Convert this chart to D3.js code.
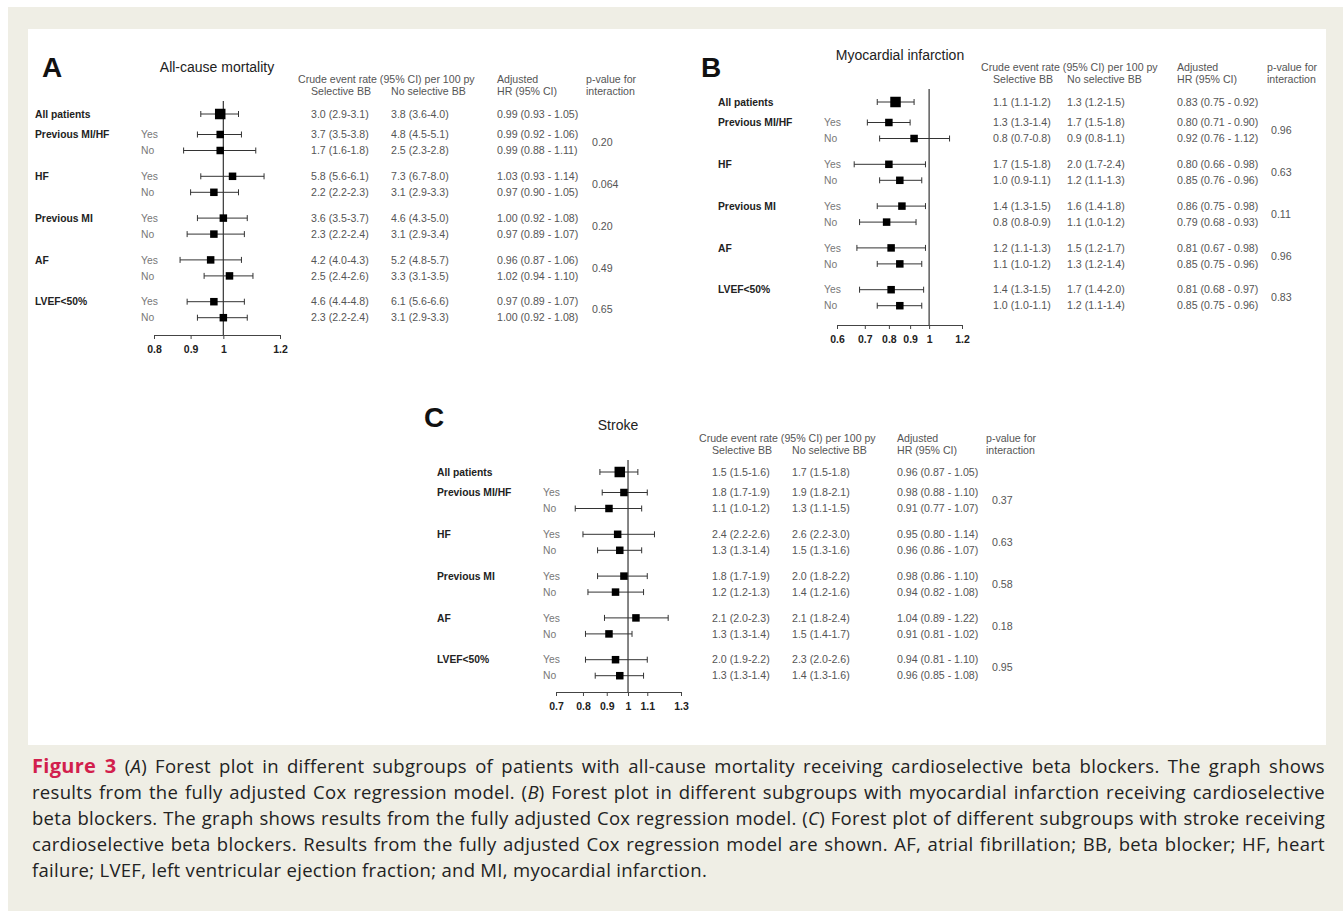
<!DOCTYPE html>
<html>
<head>
<meta charset="utf-8">
<script src="https://cdn.jsdelivr.net/npm/d3@7"></script>
<style>
  body { margin: 0; background: #fff; }
  svg text { font-family: Arial, "Liberation Sans", sans-serif; }
</style>
</head>
<body>
<div id="main"></div>
<script>

// rows: 0 = all patients, then Yes/No pairs for each subgroup
const groups = ['All patients', 'Previous MI/HF', 'HF', 'Previous MI', 'AF', 'LVEF<50%'];
const rowGroup = [0, 1, 1, 2, 2, 3, 3, 4, 4, 5, 5];
const rowSub = ['', 'Yes', 'No', 'Yes', 'No', 'Yes', 'No', 'Yes', 'No', 'Yes', 'No'];

// A - all-cause mortality
const mortHR = [0.99, 0.99, 0.99, 1.03, 0.97, 1.00, 0.97, 0.96, 1.02, 0.97, 1.00];
const mortLo = [0.93, 0.92, 0.88, 0.93, 0.90, 0.92, 0.89, 0.87, 0.94, 0.89, 0.92];
const mortHi = [1.05, 1.06, 1.11, 1.14, 1.05, 1.08, 1.07, 1.06, 1.10, 1.07, 1.08];
const mortSel = ['3.0 (2.9-3.1)', '3.7 (3.5-3.8)', '1.7 (1.6-1.8)', '5.8 (5.6-6.1)', '2.2 (2.2-2.3)', '3.6 (3.5-3.7)', '2.3 (2.2-2.4)', '4.2 (4.0-4.3)', '2.5 (2.4-2.6)', '4.6 (4.4-4.8)', '2.3 (2.2-2.4)'];
const mortNon = ['3.8 (3.6-4.0)', '4.8 (4.5-5.1)', '2.5 (2.3-2.8)', '7.3 (6.7-8.0)', '3.1 (2.9-3.3)', '4.6 (4.3-5.0)', '3.1 (2.9-3.4)', '5.2 (4.8-5.7)', '3.3 (3.1-3.5)', '6.1 (5.6-6.6)', '3.1 (2.9-3.3)'];
const mortP = ['0.20', '0.064', '0.20', '0.49', '0.65'];
const mortTicks = [0.8, 0.9, 1, 1.2];

// B - myocardial infarction
const miHR = [0.83, 0.80, 0.92, 0.80, 0.85, 0.86, 0.79, 0.81, 0.85, 0.81, 0.85];
const miLo = [0.75, 0.71, 0.76, 0.66, 0.76, 0.75, 0.68, 0.67, 0.75, 0.68, 0.75];
const miHi = [0.92, 0.90, 1.12, 0.98, 0.96, 0.98, 0.93, 0.98, 0.96, 0.97, 0.96];
const miSel = ['1.1 (1.1-1.2)', '1.3 (1.3-1.4)', '0.8 (0.7-0.8)', '1.7 (1.5-1.8)', '1.0 (0.9-1.1)', '1.4 (1.3-1.5)', '0.8 (0.8-0.9)', '1.2 (1.1-1.3)', '1.1 (1.0-1.2)', '1.4 (1.3-1.5)', '1.0 (1.0-1.1)'];
const miNon = ['1.3 (1.2-1.5)', '1.7 (1.5-1.8)', '0.9 (0.8-1.1)', '2.0 (1.7-2.4)', '1.2 (1.1-1.3)', '1.6 (1.4-1.8)', '1.1 (1.0-1.2)', '1.5 (1.2-1.7)', '1.3 (1.2-1.4)', '1.7 (1.4-2.0)', '1.2 (1.1-1.4)'];
const miP = ['0.96', '0.63', '0.11', '0.96', '0.83'];
const miTicks = [0.6, 0.7, 0.8, 0.9, 1, 1.2];

// C - stroke
const strHR = [0.96, 0.98, 0.91, 0.95, 0.96, 0.98, 0.94, 1.04, 0.91, 0.94, 0.96];
const strLo = [0.87, 0.88, 0.77, 0.80, 0.86, 0.86, 0.82, 0.89, 0.81, 0.81, 0.85];
const strHi = [1.05, 1.10, 1.07, 1.14, 1.07, 1.10, 1.08, 1.22, 1.02, 1.10, 1.08];
const strSel = ['1.5 (1.5-1.6)', '1.8 (1.7-1.9)', '1.1 (1.0-1.2)', '2.4 (2.2-2.6)', '1.3 (1.3-1.4)', '1.8 (1.7-1.9)', '1.2 (1.2-1.3)', '2.1 (2.0-2.3)', '1.3 (1.3-1.4)', '2.0 (1.9-2.2)', '1.3 (1.3-1.4)'];
const strNon = ['1.7 (1.5-1.8)', '1.9 (1.8-2.1)', '1.3 (1.1-1.5)', '2.6 (2.2-3.0)', '1.5 (1.3-1.6)', '2.0 (1.8-2.2)', '1.4 (1.2-1.6)', '2.1 (1.8-2.4)', '1.5 (1.4-1.7)', '2.3 (2.0-2.6)', '1.4 (1.3-1.6)'];
const strP = ['0.37', '0.63', '0.58', '0.18', '0.95'];
const strTicks = [0.7, 0.8, 0.9, 1, 1.1, 1.3];

const captionLines = [
    ' (*A*) Forest plot in different subgroups of patients with all-cause mortality receiving cardioselective beta blockers. The graph shows',
    'results from the fully adjusted Cox regression model. (*B*) Forest plot in different subgroups with myocardial infarction receiving cardioselective',
    'beta blockers. The graph shows results from the fully adjusted Cox regression model. (*C*) Forest plot of different subgroups with stroke receiving',
    'cardioselective beta blockers. Results from the fully adjusted Cox regression model are shown. AF, atrial fibrillation; BB, beta blocker; HF, heart',
    'failure; LVEF, left ventricular ejection fraction; and MI, myocardial infarction.'
];


const W = 1343, H = 911;

const svg = d3.select('#main').append('svg')
    .attr('width', W).attr('height', H)
    .style('display', 'block');

// background + white figure panel
svg.append('rect').attr('x', 8).attr('y', 7).attr('width', W - 8).attr('height', H - 7).attr('fill', '#efeee5');
svg.append('rect').attr('x', 28).attr('y', 29).attr('width', 1298).attr('height', 716).attr('fill', '#fff');


// panel layouts
const panels = [
    {
        letter: 'A', lx: 42, ly: 77, title: 'All-cause mortality', tx: 217, ty: 67,
        labX: 35, subX: 141, row0: 114, domain: [0.8, 1.2], range: [154, 280], vTop: 101, axisY: 335,
        hdrY: 79, crudeX: 298, c1: 311, c2: 391, c3: 497, pHdr: 586, pX: 592,
        hr: mortHR, lo: mortLo, hi: mortHi, sel: mortSel, non: mortNon, p: mortP, ticks: mortTicks
    },
    {
        letter: 'B', lx: 701, ly: 77, title: 'Myocardial infarction', tx: 900, ty: 55,
        labX: 718, subX: 824, row0: 102, domain: [0.6, 1.2], range: [837, 962], vTop: 89, axisY: 325,
        hdrY: 67, crudeX: 981, c1: 993, c2: 1067, c3: 1177, pHdr: 1267, pX: 1271,
        hr: miHR, lo: miLo, hi: miHi, sel: miSel, non: miNon, p: miP, ticks: miTicks
    },
    {
        letter: 'C', lx: 424, ly: 427, title: 'Stroke', tx: 618, ty: 425,
        labX: 437, subX: 543, row0: 472, domain: [0.7, 1.3], range: [556, 681], vTop: 460, axisY: 692,
        hdrY: 438, crudeX: 699, c1: 712, c2: 792, c3: 897, pHdr: 986, pX: 992,
        hr: strHR, lo: strLo, hi: strHi, sel: strSel, non: strNon, p: strP, ticks: strTicks
    }
];

const f2 = d3.format('.2f');
const groupY = d3.scaleLinear().domain([1, 5]).range([20.5, 187.7]);
const rowOffset = i => i === 0 ? 0 : groupY(rowGroup[i]) + (rowSub[i] === 'No' ? 16 : 0);

panels.forEach(drawPanel);


function drawPanel(cfg) {
    const g = svg.append('g');
    const rows = d3.range(cfg.hr.length);
    const y = i => cfg.row0 + rowOffset(i);
    const x = d3.scaleLog().domain(cfg.domain).range(cfg.range);

    g.append('text').text(cfg.letter)
        .attr('x', cfg.lx).attr('y', cfg.ly)
        .style('font-size', '28px').style('font-weight', 'bold').attr('fill', '#111');

    g.append('text').text(cfg.title)
        .attr('x', cfg.tx).attr('y', cfg.ty).attr('dy', '0.35em')
        .attr('text-anchor', 'middle')
        .style('font-size', '14px').attr('fill', '#222');

    // group labels
    g.selectAll('.grp').data(rows.filter(i => rowSub[i] !== 'No')).enter().append('text')
        .attr('class', 'grp')
        .attr('x', cfg.labX).attr('y', y).attr('dy', '0.35em')
        .text(i => groups[rowGroup[i]])
        .style('font-size', '10.3px').style('font-weight', 'bold').attr('fill', '#222');

    g.selectAll('.sub').data(rows.filter(i => rowSub[i])).enter().append('text')
        .attr('class', 'sub')
        .attr('x', cfg.subX).attr('y', y).attr('dy', '0.35em')
        .text(i => rowSub[i])
        .style('font-size', '10.3px').attr('fill', '#777');

    // reference line at HR = 1
    g.append('line')
        .attr('x1', x(1)).attr('x2', x(1))
        .attr('y1', cfg.vTop).attr('y2', cfg.axisY)
        .attr('stroke', '#444').attr('stroke-width', 1.3);

    // x-axis
    const axis = d3.axisBottom(x).tickValues(cfg.ticks).tickFormat(d3.format('~g'))
        .tickSize(4).tickSizeOuter(0).tickPadding(7);
    const ax = g.append('g').attr('transform', `translate(0,${cfg.axisY})`).call(axis);
    ax.select('.domain').attr('stroke', '#444');
    ax.selectAll('.tick line').attr('stroke', '#444');
    ax.selectAll('.tick text')
        .style('font-size', '10.5px').style('font-weight', 'bold')
        .style('font-family', 'Arial, "Liberation Sans", sans-serif')
        .attr('fill', '#222');

    // confidence intervals
    const ci = g.selectAll('.ci').data(rows).enter().append('g').attr('class', 'ci');
    ci.append('line')
        .attr('x1', i => x(cfg.lo[i])).attr('x2', i => x(cfg.hi[i]))
        .attr('y1', y).attr('y2', y)
        .attr('stroke', '#333').attr('stroke-width', 1);
    ci.append('line')
        .attr('x1', i => x(cfg.lo[i])).attr('x2', i => x(cfg.lo[i]))
        .attr('y1', i => y(i) - 3).attr('y2', i => y(i) + 3)
        .attr('stroke', '#333').attr('stroke-width', 1);
    ci.append('line')
        .attr('x1', i => x(cfg.hi[i])).attr('x2', i => x(cfg.hi[i]))
        .attr('y1', i => y(i) - 3).attr('y2', i => y(i) + 3)
        .attr('stroke', '#333').attr('stroke-width', 1);

    // point estimates
    const box = i => i === 0 ? 10.5 : 7.5;
    g.selectAll('.pt').data(rows).enter().append('rect')
        .attr('class', 'pt')
        .attr('x', i => x(cfg.hr[i]) - box(i) / 2)
        .attr('y', i => y(i) - box(i) / 2)
        .attr('width', box).attr('height', box)
        .attr('fill', '#000');

    // table headers
    const hdr = (txt, hx, hy) => g.append('text').text(txt)
        .attr('x', hx).attr('y', hy).attr('dy', '0.35em')
        .style('font-size', '10.6px').attr('fill', '#555');
    hdr('Crude event rate (95% CI) per 100 py', cfg.crudeX, cfg.hdrY);
    hdr('Selective BB', cfg.c1, cfg.hdrY + 12);
    hdr('No selective BB', cfg.c2, cfg.hdrY + 12);
    hdr('Adjusted', cfg.c3, cfg.hdrY);
    hdr('HR (95% CI)', cfg.c3, cfg.hdrY + 12);
    hdr('p-value for', cfg.pHdr, cfg.hdrY);
    hdr('interaction', cfg.pHdr, cfg.hdrY + 12);

    // table values
    const cell = (cls, cx, fn) => g.selectAll('.' + cls).data(rows).enter().append('text')
        .attr('class', cls)
        .attr('x', cx).attr('y', y).attr('dy', '0.35em')
        .text(fn)
        .style('font-size', '10.6px').attr('fill', '#555');
    cell('csel', cfg.c1, i => cfg.sel[i]);
    cell('cnon', cfg.c2, i => cfg.non[i]);
    cell('chr', cfg.c3, i => `${f2(cfg.hr[i])} (${f2(cfg.lo[i])} - ${f2(cfg.hi[i])})`);

    g.selectAll('.pv').data(cfg.p).enter().append('text')
        .attr('class', 'pv')
        .attr('x', cfg.pX)
        .attr('y', (d, k) => cfg.row0 + groupY(k + 1) + 8)
        .attr('dy', '0.35em')
        .text(d => d)
        .style('font-size', '10.6px').attr('fill', '#555');
}


// caption, justified by word spacing
const capX = 32, capW = 1293, capY0 = 773, capLH = 26;

captionLines.forEach((line, k) => {
    const t = svg.append('text')
        .attr('x', capX).attr('y', capY0 + k * capLH)
        .style('font-family', '"Open Sans", Lato, sans-serif')
        .style('font-size', '18.5px').style('letter-spacing', '0.3px')
        .attr('fill', '#222');

    if (k === 0) {
        t.append('tspan').text('Figure 3')
            .style('font-weight', 'bold').style('font-size', '20px')
            .attr('fill', '#d21f4d');
    }
    line.split(/(\*[^*]+\*)/).filter(s => s.length).forEach(seg => {
        if (seg.startsWith('*')) {
            t.append('tspan').text(seg.slice(1, -1)).style('font-style', 'italic');
        } else {
            t.append('tspan').text(seg);
        }
    });

    if (k < captionLines.length - 1) {
        const w = t.node().getComputedTextLength();
        const spaces = (t.text().match(/ /g) || []).length;
        t.style('word-spacing', ((capW - w) / spaces) + 'px');
    }
});

</script>
</body>
</html>
